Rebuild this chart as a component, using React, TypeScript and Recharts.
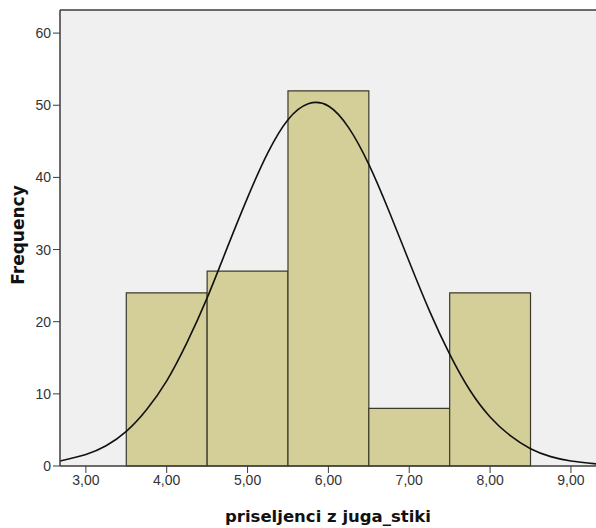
import {
  ComposedChart,
  Line,
  XAxis,
  YAxis,
  CartesianGrid,
  ReferenceArea,
  ReferenceLine,
} from "recharts";

// histogram bins (centre, count), bin width 1
const BIN_CENTERS = [4, 5, 6, 7, 8];
const BIN_COUNTS = [24, 27, 52, 8, 24];
const BIN_WIDTH = 1;

// normal curve
const CURVE_X = [
  2.68, 3.0, 3.25, 3.5, 3.75, 4.0, 4.25, 4.5, 4.75, 5.0, 5.25, 5.5, 5.75, 6.0,
  6.25, 6.5, 6.75, 7.0, 7.25, 7.5, 7.75, 8.0, 8.25, 8.5, 8.75, 9.0, 9.31,
];
const CURVE_Y = [
  0.7, 1.6, 2.8, 4.8, 7.8, 11.8, 17.1, 23.3, 30.3, 37.2, 43.4, 48.0, 50.2, 49.9,
  46.9, 41.8, 35.3, 28.3, 21.5, 15.5, 10.5, 6.8, 4.2, 2.4, 1.3, 0.7, 0.3,
];

const X_TICKS = [3, 4, 5, 6, 7, 8, 9];
const Y_TICKS = [0, 10, 20, 30, 40, 50, 60];
const X_DOMAIN = [2.68, 9.31];
const Y_MAX = 63.2;

const FONT = "'Liberation Sans', Arial, sans-serif";
const TITLE_FONT = "'DejaVu Sans', Verdana, sans-serif";
const AXIS = "#3c3c3c";

const curveData = CURVE_X.map((x, i) => ({ x, freq: CURVE_Y[i] }));

export default function App() {
  return (
    <div style={{ position: "absolute", left: 0, top: 0, background: "#fff" }}>
      <ComposedChart
        width={596}
        height={528}
        data={curveData}
        margin={{ top: 10, right: 0, bottom: 0, left: 0 }}
        style={{ fontFamily: FONT }}
      >
        <CartesianGrid fill="#f0f0f0" horizontal={false} vertical={false} stroke="none" />
        <XAxis
          type="number"
          dataKey="x"
          domain={X_DOMAIN}
          ticks={X_TICKS}
          allowDataOverflow
          height={62}
          tickSize={7}
          tickFormatter={(v) => v.toFixed(2).replace(".", ",")}
          tick={{ fontSize: 14, fill: "#333" }}
          stroke={AXIS}
          axisLine={{ stroke: AXIS, strokeWidth: 1.5 }}
          label={{
            value: "priseljenci z juga_stiki",
            position: "insideBottom",
            offset: 6,
            style: { fontSize: 16.5, fontWeight: "bold", fill: "#111", fontFamily: TITLE_FONT },
          }}
        />
        <YAxis
          type="number"
          domain={[0, Y_MAX]}
          ticks={Y_TICKS}
          allowDataOverflow
          width={60}
          tickSize={7}
          tick={{ fontSize: 14, fill: "#333" }}
          stroke={AXIS}
          axisLine={{ stroke: AXIS, strokeWidth: 1.5 }}
          label={{
            content: ({ viewBox }: any) => {
              const cy = viewBox.y + viewBox.height / 2 - 3;
              return (
                <text
                  x={18}
                  y={cy}
                  transform={`rotate(-90 18 ${cy})`}
                  textAnchor="middle"
                  dominantBaseline="central"
                  style={{ fontSize: 17, fontWeight: "bold", fill: "#111", fontFamily: TITLE_FONT }}
                >
                  Frequency
                </text>
              );
            },
          }}
        />
        <ReferenceLine y={Y_MAX} stroke={AXIS} strokeWidth={1.5} />
        {BIN_CENTERS.map((c, i) => (
          <ReferenceArea
            key={c}
            x1={c - BIN_WIDTH / 2}
            x2={c + BIN_WIDTH / 2}
            y1={0}
            y2={BIN_COUNTS[i]}
            fill="#d4cf98"
            fillOpacity={1}
            stroke="#3b3a2c"
            strokeWidth={1.2}
          />
        ))}
        <Line
          type="natural"
          dataKey="freq"
          stroke="#111"
          strokeWidth={1.6}
          dot={false}
          isAnimationActive={false}
        />
      </ComposedChart>
    </div>
  );
}
